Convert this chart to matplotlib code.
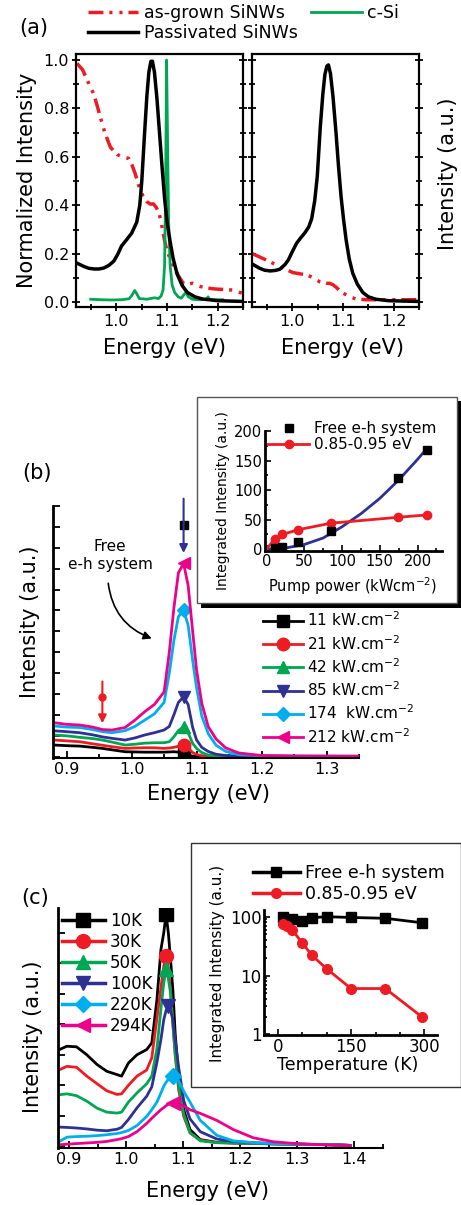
import matplotlib
matplotlib.use('Agg')
import matplotlib.pyplot as plt
from matplotlib.lines import Line2D
from matplotlib.patches import Rectangle
from matplotlib.ticker import MultipleLocator, NullFormatter, LogLocator, FixedLocator

# ---------------- data ----------------
# (a) left: normalised PL spectra
e_grown = [0.922, 0.933, 0.946, 0.955, 0.962, 0.970, 0.977, 0.988, 1.001, 1.012, 1.024, 1.031,
           1.037, 1.045, 1.052, 1.060, 1.067, 1.073, 1.079, 1.085, 1.090, 1.095, 1.100, 1.106,
           1.116, 1.125, 1.132, 1.140, 1.150, 1.158, 1.165, 1.180, 1.197, 1.215, 1.230, 1.248]
i_grown = [0.986, 0.960, 0.900, 0.860, 0.810, 0.750, 0.700, 0.640, 0.610, 0.600, 0.594, 0.565,
           0.530, 0.475, 0.440, 0.415, 0.405, 0.406, 0.390, 0.360, 0.310, 0.255, 0.210, 0.180,
           0.133, 0.100, 0.078, 0.074, 0.078, 0.070, 0.065, 0.058, 0.054, 0.052, 0.050, 0.037]
e_csi = [0.949, 0.970, 0.990, 1.010, 1.025, 1.031, 1.036, 1.040, 1.045, 1.060, 1.075, 1.083,
         1.088, 1.092, 1.095, 1.097, 1.099, 1.101, 1.103, 1.106, 1.110, 1.115, 1.122, 1.128,
         1.133, 1.137, 1.142, 1.150, 1.165, 1.178, 1.181, 1.184, 1.200, 1.210]
i_csi = [0.012, 0.010, 0.009, 0.010, 0.014, 0.030, 0.048, 0.035, 0.015, 0.012, 0.018, 0.015,
         0.025, 0.050, 0.150, 0.450, 1.000, 0.650, 0.330, 0.150, 0.070, 0.040, 0.022, 0.016,
         0.030, 0.040, 0.022, 0.012, 0.010, 0.012, 0.022, 0.011, 0.010, 0.010]
e_pass = [0.922, 0.935, 0.945, 0.956, 0.965, 0.975, 0.985, 0.995, 1.003, 1.010, 1.020, 1.030,
          1.040, 1.046, 1.050, 1.055, 1.060, 1.064, 1.068, 1.071, 1.075, 1.080, 1.085, 1.090,
          1.095, 1.100, 1.106, 1.112, 1.120, 1.130, 1.140, 1.155, 1.170, 1.200, 1.250]
i_pass = [0.161, 0.148, 0.140, 0.137, 0.137, 0.141, 0.152, 0.170, 0.200, 0.232, 0.258, 0.285,
          0.330, 0.400, 0.500, 0.680, 0.850, 0.950, 0.995, 0.995, 0.950, 0.840, 0.700, 0.560,
          0.430, 0.330, 0.250, 0.180, 0.115, 0.068, 0.040, 0.022, 0.013, 0.006, 0.003]

# (a) right: absolute intensity spectra
e_pass_r = [0.921, 0.935, 0.945, 0.956, 0.966, 0.975, 0.985, 0.992, 1.000, 1.008, 1.016, 1.024,
            1.032, 1.038, 1.044, 1.049, 1.055, 1.060, 1.064, 1.068, 1.071, 1.075, 1.080, 1.086,
            1.091, 1.096, 1.101, 1.106, 1.112, 1.119, 1.128, 1.139, 1.150, 1.165, 1.190, 1.248]
i_pass_r = [0.157, 0.140, 0.132, 0.129, 0.131, 0.136, 0.155, 0.175, 0.210, 0.243, 0.265, 0.285,
            0.310, 0.345, 0.420, 0.520, 0.725, 0.860, 0.940, 0.975, 0.980, 0.945, 0.850, 0.700,
            0.560, 0.436, 0.340, 0.257, 0.180, 0.120, 0.075, 0.040, 0.022, 0.012, 0.006, 0.003]
e_grown_r = [0.921, 0.942, 0.962, 0.982, 1.001, 1.015, 1.027, 1.038, 1.047, 1.054, 1.060, 1.067,
             1.073, 1.080, 1.086, 1.095, 1.106, 1.115, 1.125, 1.145, 1.200, 1.248]
i_grown_r = [0.200, 0.180, 0.160, 0.140, 0.122, 0.117, 0.113, 0.104, 0.092, 0.084, 0.081, 0.078,
             0.078, 0.072, 0.062, 0.045, 0.030, 0.020, 0.014, 0.010, 0.010, 0.010]

# (b) power dependent spectra
e_b = [0.881, 0.90, 0.92, 0.94, 0.955, 0.97, 0.99, 1.005, 1.02, 1.035, 1.05, 1.058, 1.065,
       1.072, 1.08, 1.087, 1.094, 1.10, 1.108, 1.118, 1.13, 1.145, 1.165, 1.20, 1.25, 1.35]
i_11 = [0.56, 0.53, 0.51, 0.45, 0.40, 0.33, 0.24, 0.23, 0.22, 0.22, 0.22, 0.23, 0.24,
        0.22, 0.16, 0.08, 0.03, 0.02, 0.01, 0.01, 0.0, 0.0, 0.0, 0.0, 0.0, 0.0]
i_21 = [0.80, 0.76, 0.72, 0.62, 0.55, 0.48, 0.40, 0.42, 0.43, 0.43, 0.40, 0.42, 0.45,
        0.50, 0.56, 0.40, 0.20, 0.11, 0.05, 0.02, 0.01, 0.0, 0.0, 0.0, 0.0, 0.0]
i_42 = [1.04, 1.00, 0.93, 0.87, 0.80, 0.70, 0.56, 0.60, 0.65, 0.67, 0.67, 0.72, 0.95,
        1.25, 1.44, 1.15, 0.64, 0.40, 0.20, 0.08, 0.04, 0.02, 0.01, 0.0, 0.0, 0.0]
i_85 = [1.24, 1.20, 1.15, 1.05, 0.95, 0.88, 0.80, 0.90, 1.04, 1.15, 1.28, 1.45, 2.00,
        2.60, 2.87, 2.50, 1.40, 0.80, 0.45, 0.25, 0.12, 0.06, 0.03, 0.02, 0.01, 0.01]
i_174 = [1.47, 1.42, 1.40, 1.30, 1.20, 1.15, 1.25, 1.45, 1.75, 2.05, 2.60, 4.00, 5.55,
         6.70, 7.02, 6.30, 4.60, 3.30, 1.95, 1.10, 0.55, 0.25, 0.10, 0.05, 0.03, 0.02]
i_212 = [1.63, 1.55, 1.52, 1.42, 1.30, 1.28, 1.40, 1.75, 2.15, 2.50, 3.10, 5.00, 7.10,
         8.80, 9.25, 8.20, 6.00, 4.15, 2.55, 1.44, 0.85, 0.42, 0.18, 0.06, 0.04, 0.03]
power_labels = ['11 kW.cm$^{-2}$', '21 kW.cm$^{-2}$', '42 kW.cm$^{-2}$',
                '85 kW.cm$^{-2}$', '174  kW.cm$^{-2}$', '212 kW.cm$^{-2}$']

# (b) inset: integrated intensity vs pump power
pump = [11, 21, 42, 85, 174, 212]
free_eh_b = [2, 3.4, 13, 31, 121, 168]
pump_low = [0, 11, 21, 42, 85, 174, 212]
low_b = [0, 17.5, 25, 33, 44, 54, 58]
fit_p = [0, 25, 50, 75, 100, 125, 150, 175, 200, 212]
fit_i = [0, 2, 8, 19, 38, 60, 86, 117, 152, 170]

# (c) temperature dependent spectra
e_c = [0.883, 0.896, 0.913, 0.931, 0.949, 0.966, 0.984, 0.992, 1.004, 1.019, 1.036, 1.045,
       1.054, 1.061, 1.066, 1.070, 1.074, 1.078, 1.082, 1.086, 1.092, 1.101, 1.112, 1.130,
       1.159, 1.188, 1.223, 1.258, 1.305, 1.364, 1.393]
i_10k = [3.17, 3.28, 3.26, 3.00, 2.68, 2.46, 2.35, 2.30, 2.73, 3.00, 3.17, 3.39, 4.81, 6.45,
         7.00, 7.60, 7.00, 6.10, 5.10, 3.70, 2.30, 1.20, 0.55, 0.22, 0.13, 0.11, 0.10, 0.08,
         0.07, 0.05, 0.03]
i_30k = [2.51, 2.62, 2.59, 2.30, 2.05, 1.82, 1.70, 1.72, 2.00, 2.30, 2.50, 2.90, 4.20, 5.20,
         5.90, 6.23, 5.80, 5.10, 4.00, 3.00, 1.86, 0.98, 0.44, 0.20, 0.12, 0.11, 0.10, 0.08,
         0.07, 0.05, 0.03]
i_50k = [1.69, 1.72, 1.66, 1.48, 1.25, 1.12, 1.09, 1.12, 1.45, 1.75, 2.05, 2.30, 3.20, 4.50,
         5.36, 5.80, 5.50, 5.00, 4.00, 3.06, 2.00, 1.05, 0.45, 0.18, 0.12, 0.11, 0.10, 0.08,
         0.07, 0.05, 0.03]
i_100k = [0.63, 0.62, 0.60, 0.57, 0.53, 0.51, 0.56, 0.62, 0.88, 1.26, 1.64, 1.95, 2.75, 3.50,
          4.15, 4.45, 4.59, 4.45, 4.15, 3.50, 2.60, 1.50, 0.90, 0.48, 0.24, 0.16, 0.12, 0.09,
          0.07, 0.05, 0.03]
i_220k = [0.16, 0.30, 0.32, 0.33, 0.35, 0.38, 0.42, 0.45, 0.52, 0.68, 0.98, 1.20, 1.45, 1.75,
          1.97, 2.10, 2.20, 2.28, 2.32, 2.28, 2.15, 1.80, 1.45, 0.85, 0.36, 0.18, 0.12, 0.09,
          0.07, 0.05, 0.03]
i_294k = [0.05, 0.07, 0.09, 0.11, 0.13, 0.16, 0.22, 0.25, 0.32, 0.48, 0.75, 0.92, 1.08, 1.20,
          1.27, 1.33, 1.38, 1.41, 1.42, 1.41, 1.38, 1.32, 1.20, 1.08, 0.85, 0.55, 0.28, 0.15,
          0.08, 0.04, 0.03]
temp_labels = ['10K', '30K', '50K', '100K', '220K', '294K']

# (c) inset: integrated intensity vs temperature
temps_free = [10, 30, 50, 70, 100, 150, 220, 294]
free_c = [97, 90, 86, 96, 100, 97, 94, 79]
temps_low = [10, 20, 30, 50, 70, 100, 150, 220, 294]
low_c = [74, 69, 59, 36, 22, 13, 6, 6, 2]

# ---------------- style ----------------
RED = '#ed1c24'
GREEN = '#00a651'
NAVY = '#2e3192'
CYAN = '#00aeef'
PINK = '#ec008c'
DASHDOTDOT = (0, (4.3, 1.7, 0.9, 2.0, 0.9, 1.7))

W, H = 461, 1205
fig = plt.figure(figsize=(W / 100, H / 100), dpi=100)


def box(l, t, r, b):
    """pixel box (left, top, right, bottom) -> figure rect"""
    return [l / W, 1 - b / H, (r - l) / W, (b - t) / H]


def ftext(x, y, s, **kw):
    kw.setdefault('ha', 'center')
    kw.setdefault('va', 'center')
    fig.text(x / W, 1 - y / H, s, **kw)


# ---------------- panel (a) ----------------
axes_a = [fig.add_axes(box(76, 54, 243, 307)), fig.add_axes(box(252, 54, 419, 307))]
ax = axes_a[0]
ax.plot(e_grown, i_grown, color=RED, lw=2.5, ls=DASHDOTDOT)
ax.plot(e_csi, i_csi, color=GREEN, lw=2)
ax.plot(e_pass, i_pass, color='k', lw=2.5)
ax = axes_a[1]
ax.plot(e_grown_r, i_grown_r, color=RED, lw=2.5, ls=DASHDOTDOT)
ax.plot(e_pass_r, i_pass_r, color='k', lw=2.5)

for i, ax in enumerate(axes_a):
    ax.set_xlim(0.92, 1.25)
    ax.set_ylim(-0.02, 1.025)
    ax.xaxis.set_major_locator(FixedLocator([1.0, 1.1, 1.2]))
    ax.xaxis.set_minor_locator(MultipleLocator(0.05))
    ax.yaxis.set_major_locator(MultipleLocator(0.2))
    ax.yaxis.set_minor_locator(MultipleLocator(0.1))
    ax.tick_params(which='both', direction='inout', right=True, width=1.3,
                   labelsize=11.5, pad=2, labelleft=(i == 0))
    ax.tick_params(which='major', length=6)
    ax.tick_params(which='minor', length=4)
    for s in ax.spines.values():
        s.set_linewidth(1.6)
axes_a[0].yaxis.set_major_formatter(plt.FuncFormatter(lambda v, p: f'{v:.1f}'))
axes_a[0].xaxis.set_major_formatter(plt.FuncFormatter(lambda v, p: f'{v:.1f}'))
axes_a[1].xaxis.set_major_formatter(plt.FuncFormatter(lambda v, p: f'{v:.1f}'))

leg_a = [Line2D([], [], color=RED, lw=2.5, ls=DASHDOTDOT),
         Line2D([], [], color='k', lw=2.5),
         Line2D([], [], color=GREEN, lw=2)]
fig.legend(leg_a, ['as-grown SiNWs', 'Passivated SiNWs', 'c-Si'], loc='upper left',
           bbox_to_anchor=(88 / W, 1 - 4 / H), ncol=2, frameon=False, fontsize=12.5,
           handlelength=2.9, handletextpad=0.3, labelspacing=0.1, columnspacing=0.8,
           borderpad=0, borderaxespad=0)
ftext(34, 28, '(a)', fontsize=15)
ftext(27, 180, 'Normalized Intensity', rotation=90, fontsize=15)
ftext(164, 348, 'Energy (eV)', fontsize=15)
ftext(342, 348, 'Energy (eV)', fontsize=15)
ftext(448, 174, 'Intensity (a.u.)', rotation=90, fontsize=15)

# ---------------- panel (b) ----------------
axb = fig.add_axes(box(53, 506, 359, 758))
b_series = [(i_11, 'k', 's'), (i_21, RED, 'o'), (i_42, GREEN, '^'),
            (i_85, NAVY, 'v'), (i_174, CYAN, 'D'), (i_212, PINK, '<')]
peak_b = e_b.index(1.08)
handles_b = []
for vals, col, mk in b_series:
    ms = 7 if mk == 'D' else 9
    axb.plot(e_b, vals, color=col, lw=2, marker=mk, ms=ms, markevery=[peak_b])
    handles_b.append(Line2D([], [], color=col, lw=2, marker=mk, ms=ms))
axb.set_xlim(0.879, 1.35)
axb.set_ylim(-0.06, 12)
axb.xaxis.set_major_locator(MultipleLocator(0.1))
axb.xaxis.set_minor_locator(MultipleLocator(0.05))
axb.yaxis.set_major_locator(MultipleLocator(1))
axb.yaxis.set_major_formatter(NullFormatter())
axb.tick_params(which='both', direction='in', width=1.3, labelsize=11.5, pad=3)
axb.tick_params(which='major', length=5)
axb.tick_params(which='minor', length=3)
axb.spines['top'].set_visible(False)
axb.spines['right'].set_visible(False)
axb.spines['left'].set_linewidth(2)
axb.spines['bottom'].set_linewidth(1.5)

# markers / arrows pointing at the free e-h peak and the low energy band
axb.plot([1.08], [11.1], 's', color='k', ms=6)
axb.annotate('', xy=(1.08, 9.75), xytext=(1.08, 12.35), annotation_clip=False,
             arrowprops=dict(arrowstyle='-|>', color=NAVY, lw=1.5, mutation_scale=12,
                             shrinkA=0, shrinkB=0))
axb.annotate('', xy=(0.955, 1.6), xytext=(0.955, 3.6),
             arrowprops=dict(arrowstyle='-|>', color=RED, lw=1.5, mutation_scale=12,
                             shrinkA=0, shrinkB=0))
axb.plot([0.955], [2.87], 'o', color=RED, ms=5)
axb.text(0.967, 9.65, 'Free\ne-h system', ha='center', va='center', fontsize=11,
         linespacing=1.25)
axb.annotate('', xy=(1.031, 5.66), xytext=(0.964, 8.3),
             arrowprops=dict(arrowstyle='-|>', color='k', lw=1.2, mutation_scale=12,
                             connectionstyle='arc3,rad=0.3', shrinkA=0, shrinkB=0))
axb.legend(handles_b, power_labels, loc='upper left', bbox_to_anchor=(0.686, 0.585),
           frameon=False, fontsize=11, handlelength=2.6, handletextpad=0.3,
           labelspacing=0.3, borderpad=0, borderaxespad=0)
ftext(37, 473, '(b)', fontsize=15)
ftext(30, 622, 'Intensity (a.u.)', rotation=90, fontsize=15)
ftext(208, 794, 'Energy (eV)', fontsize=15)

# inset frame with shadow
fig.add_artist(Rectangle((201 / W, 1 - 608 / H), 260 / W, 207 / H, transform=fig.transFigure,
                         facecolor='k', edgecolor='none', zorder=1))
fig.add_artist(Rectangle((197 / W, 1 - 603 / H), 260 / W, 206 / H, transform=fig.transFigure,
                         facecolor='white', edgecolor='#555555', lw=1, zorder=1.1))
axi = fig.add_axes(box(265, 431, 441.7, 551))
axi.set_zorder(3)
axi.patch.set_alpha(0)
axi.plot(fit_p, fit_i, color=NAVY, lw=2)
axi.plot(pump_low, low_b, color=RED, lw=2, marker='o', ms=6, markevery=slice(1, None))
axi.plot(pump, free_eh_b, 's', color='k', ms=6)
axi.set_xlim(-2, 232)
axi.set_ylim(-3, 200)
axi.xaxis.set_major_locator(MultipleLocator(50))
axi.xaxis.set_minor_locator(MultipleLocator(25))
axi.yaxis.set_major_locator(MultipleLocator(50))
axi.yaxis.set_minor_locator(MultipleLocator(25))
axi.tick_params(which='both', direction='in', width=1.2, labelsize=10.5, pad=2)
axi.tick_params(which='major', length=4)
axi.tick_params(which='minor', length=2.5)
axi.spines['top'].set_visible(False)
axi.spines['right'].set_visible(False)
axi.spines['left'].set_linewidth(2)
axi.spines['bottom'].set_linewidth(2)
axi.legend([Line2D([], [], ls='none', marker='s', color='k', ms=6),
            Line2D([], [], color=RED, lw=2, marker='o', ms=6)],
           ['Free e-h system', '0.85-0.95 eV'], loc='upper left',
           bbox_to_anchor=(0.017, 1.08), frameon=False, fontsize=11, handlelength=2.7,
           handletextpad=0.3, labelspacing=0.05, borderpad=0, borderaxespad=0)
ftext(353, 586, 'Pump power (kWcm$^{-2}$)', fontsize=10.5, zorder=4)
ftext(223, 501, 'Integrated Intensity (a.u.)', rotation=90, fontsize=10, zorder=4)

# ---------------- panel (c) ----------------
axc = fig.add_axes(box(58.3, 908, 382.7, 1148))
c_series = [(i_10k, 'k', 's'), (i_30k, RED, 'o'), (i_50k, GREEN, '^'),
            (i_100k, NAVY, 'v'), (i_220k, CYAN, 'D'), (i_294k, PINK, '<')]
peak_c = [e_c.index(1.070), e_c.index(1.070), e_c.index(1.070),
          e_c.index(1.074), e_c.index(1.082), e_c.index(1.082)]
handles_c = []
for (vals, col, mk), pk in zip(c_series, peak_c):
    ms = 8 if mk == 'D' else 10
    axc.plot(e_c, vals, color=col, lw=2, marker=mk, ms=ms, markevery=[pk])
    handles_c.append(Line2D([], [], color=col, lw=2.5, marker=mk, ms=ms))
axc.set_xlim(0.881, 1.45)
axc.set_ylim(-0.055, 7.81)
axc.xaxis.set_major_locator(MultipleLocator(0.1))
axc.xaxis.set_minor_locator(MultipleLocator(0.05))
axc.yaxis.set_major_locator(MultipleLocator(1))
axc.yaxis.set_major_formatter(NullFormatter())
axc.tick_params(which='both', direction='in', width=1.3, labelsize=11.5, pad=3)
axc.tick_params(which='major', length=5)
axc.tick_params(which='minor', length=3)
axc.spines['top'].set_visible(False)
axc.spines['right'].set_visible(False)
axc.spines['left'].set_linewidth(2)
axc.spines['bottom'].set_linewidth(1.5)
axc.legend(handles_c, temp_labels, loc='upper left', bbox_to_anchor=(0.01, 0.985),
           frameon=False, fontsize=12, handlelength=2.6, handletextpad=0.3,
           labelspacing=0.18, borderpad=0, borderaxespad=0)
ftext(35, 898, '(c)', fontsize=15)
ftext(33, 1037, 'Intensity (a.u.)', rotation=90, fontsize=15)
ftext(207, 1191, 'Energy (eV)', fontsize=15)

fig.add_artist(Rectangle((191 / W, 1 - 1087 / H), 269.5 / W, 244 / H, transform=fig.transFigure,
                         facecolor='white', edgecolor='#333333', lw=1, zorder=1.1))
axci = fig.add_axes(box(264.3, 910, 436.7, 1035))
axci.set_zorder(3)
axci.patch.set_alpha(0)
axci.set_yscale('log')
axci.plot(temps_free, free_c, color='k', lw=2, marker='s', ms=7)
axci.plot(temps_low, low_c, color=RED, lw=2, marker='o', ms=7)
axci.set_xlim(-27.4, 325)
axci.set_ylim(0.973, 130)
axci.xaxis.set_major_locator(FixedLocator([0, 150, 300]))
axci.xaxis.set_minor_locator(MultipleLocator(50))
axci.yaxis.set_major_locator(FixedLocator([1, 10, 100]))
axci.yaxis.set_major_formatter(plt.FuncFormatter(lambda v, p: f'{v:g}'))
axci.yaxis.set_minor_locator(LogLocator(subs=range(2, 10)))
axci.yaxis.set_minor_formatter(NullFormatter())
axci.tick_params(which='both', direction='in', width=1.2, labelsize=12, pad=2)
axci.tick_params(which='major', length=4)
axci.tick_params(which='minor', length=2.5)
axci.spines['top'].set_visible(False)
axci.spines['right'].set_visible(False)
axci.spines['left'].set_linewidth(2)
axci.spines['bottom'].set_linewidth(2)
axci.legend([Line2D([], [], color='k', lw=2.5, marker='s', ms=7),
             Line2D([], [], color=RED, lw=2.5, marker='o', ms=7)],
            ['Free e-h system', '0.85-0.95 eV'], loc='upper left',
            bbox_to_anchor=(-0.066, 1.37), frameon=False, fontsize=12.5, handlelength=2.7,
            handletextpad=0.3, labelspacing=0.2, borderpad=0, borderaxespad=0)
ftext(348, 1065, 'Temperature (K)', fontsize=12.5, zorder=4)
ftext(217, 963, 'Integrated Intensity (a.u.)', rotation=90, fontsize=11, zorder=4)

fig.savefig('out.png', dpi=100)
